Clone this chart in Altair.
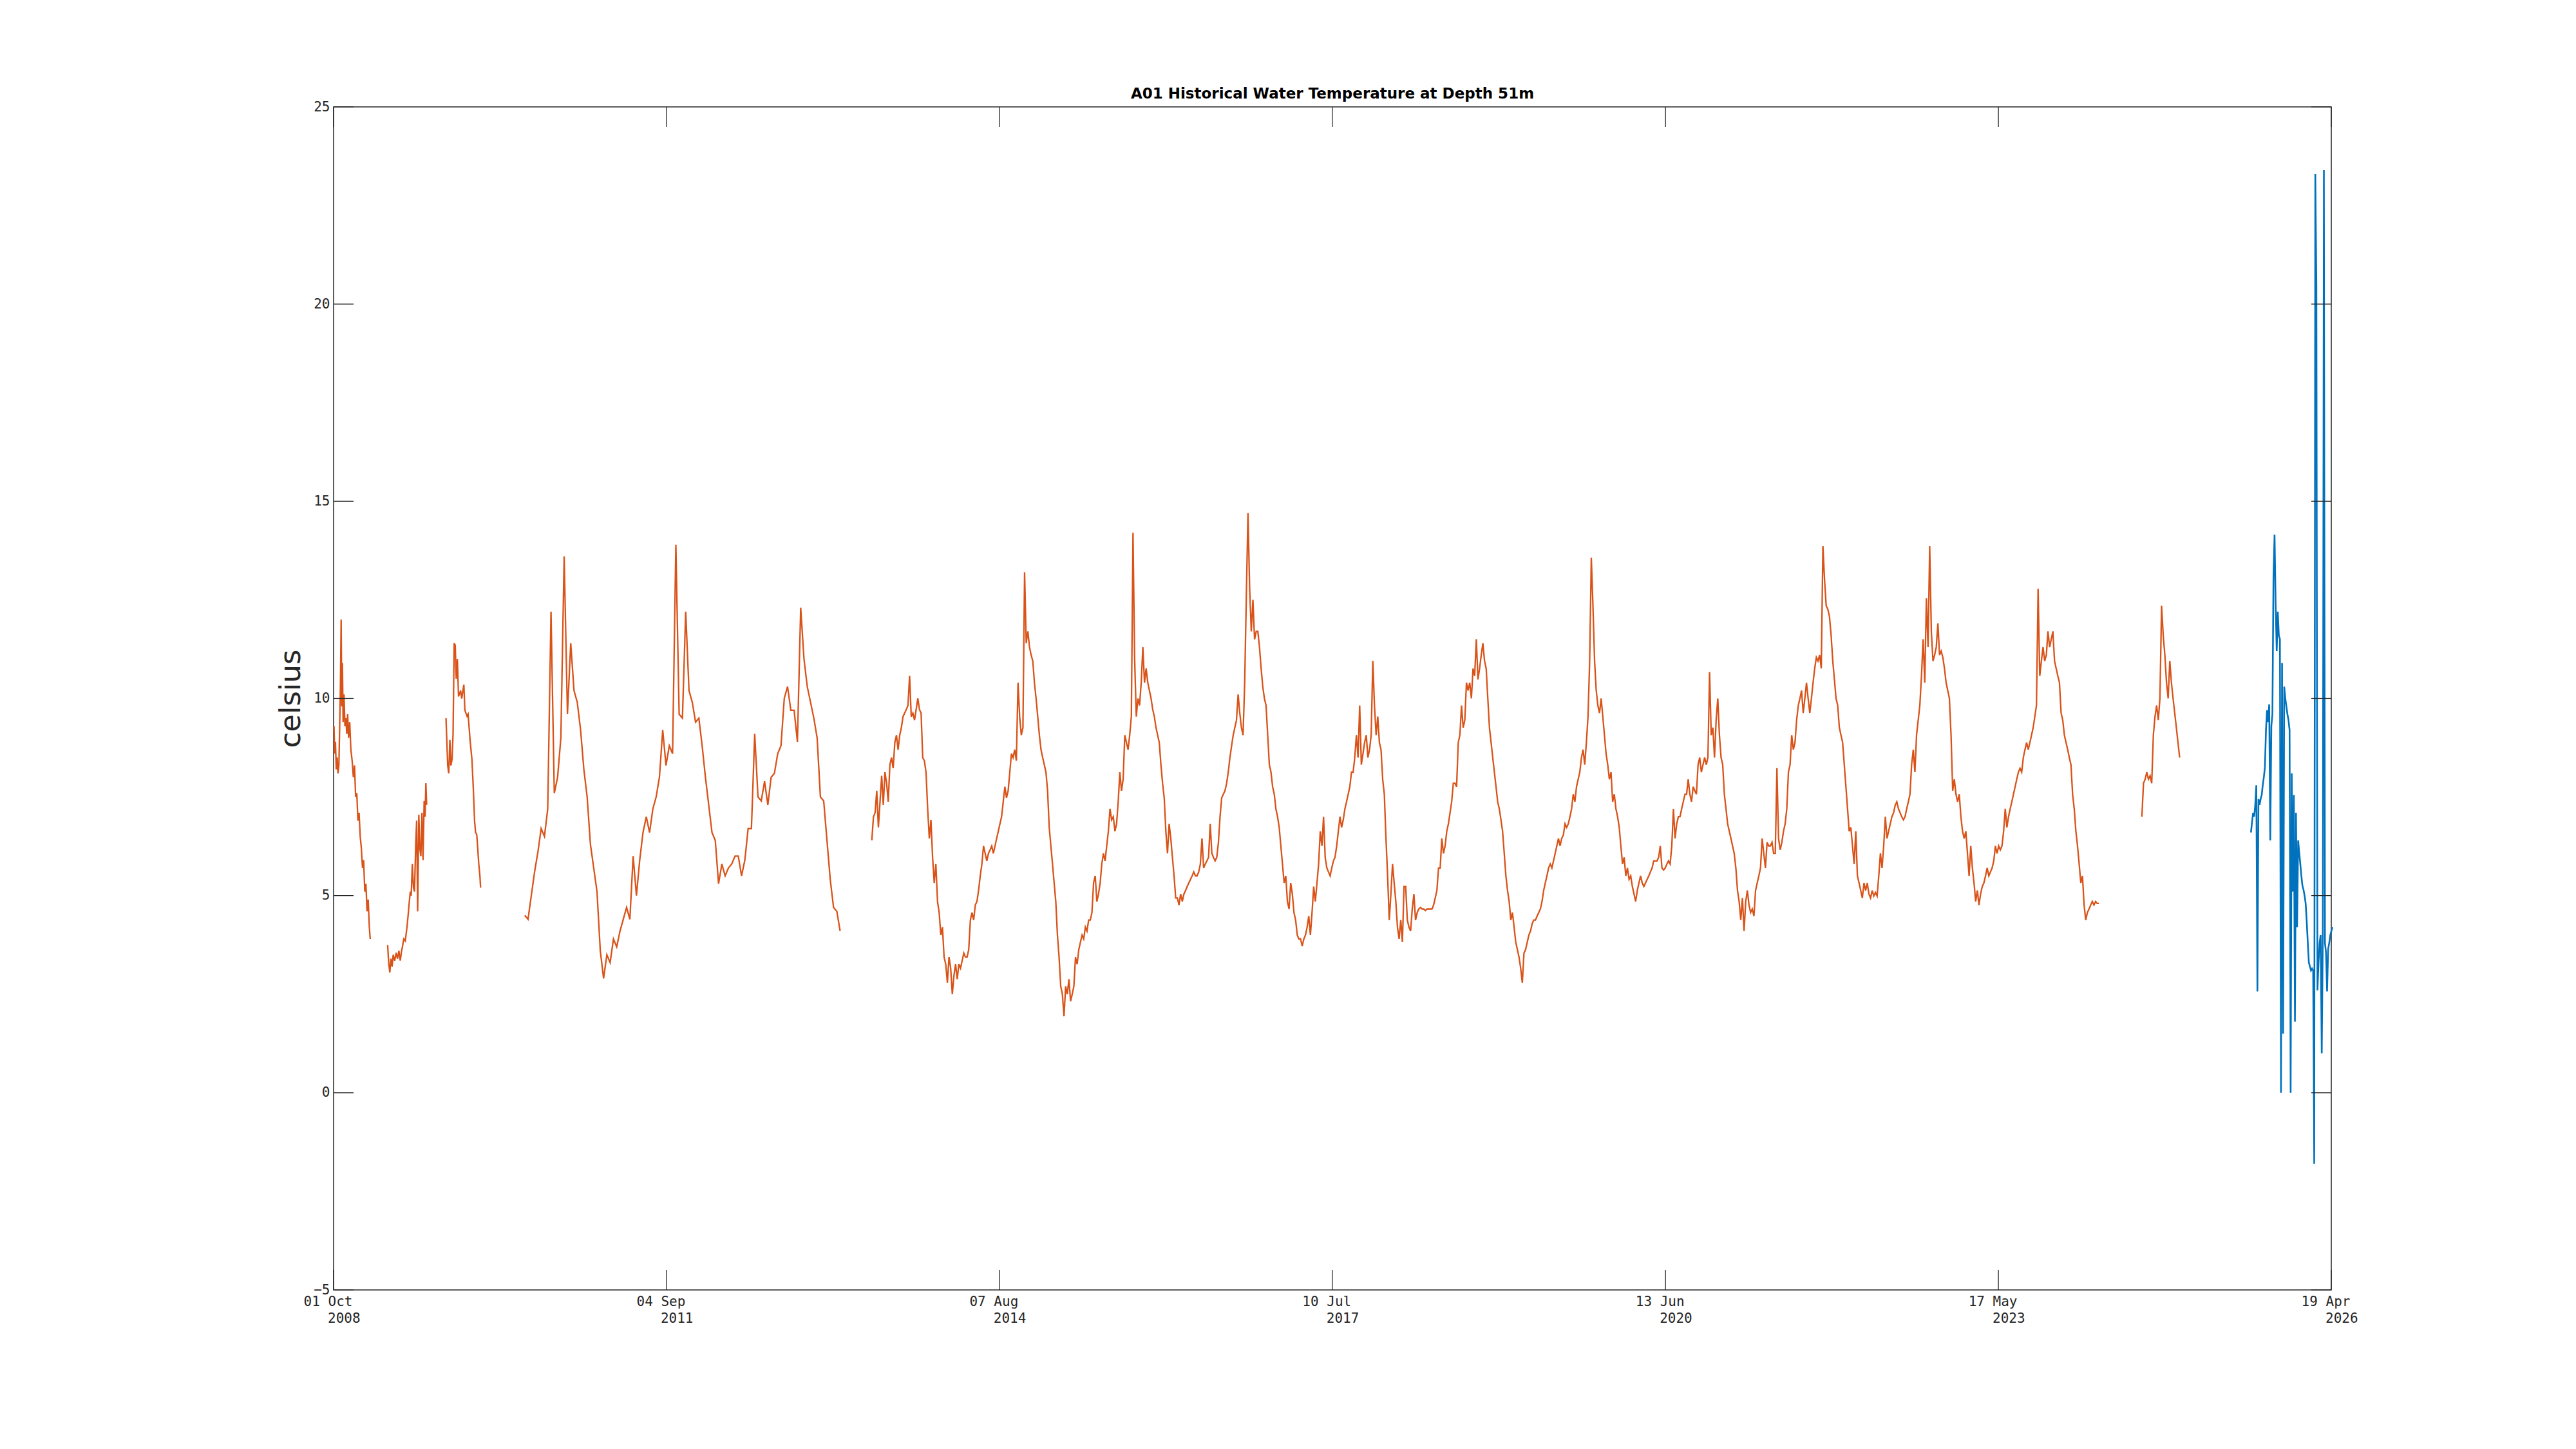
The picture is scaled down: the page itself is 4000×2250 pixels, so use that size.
import altair as alt
import pandas as pd

# ---------------- data ----------------
TITLE = "A01 Historical Water Temperature at Depth 51m"
Y_TITLE = "celsius"
X_TICK_DATES = ["2008-10-01", "2011-09-04", "2014-08-07", "2017-07-10",
                "2020-06-13", "2023-05-17", "2026-04-19"]
Y_TICKS = [-5, 0, 5, 10, 15, 20, 25]

# orange series, short segments (decimal year, temperature)
SEG1_YEARS = [2008.752, 2008.758, 2008.765, 2008.772, 2008.780, 2008.787, 2008.795, 2008.800, 2008.808, 2008.815,
              2008.820, 2008.826, 2008.832, 2008.840, 2008.848, 2008.856, 2008.864, 2008.872, 2008.880, 2008.890,
              2008.900, 2008.912, 2008.922, 2008.932, 2008.942, 2008.952, 2008.962, 2008.972, 2008.982, 2008.992,
              2009.002, 2009.012, 2009.022, 2009.032, 2009.042, 2009.052, 2009.062, 2009.070]
SEG1_TEMPS = [9.3, 8.6, 8.9, 8.2, 8.5, 8.1, 8.3, 9.0, 10.2, 12.0,
              9.8, 10.9, 9.4, 10.1, 9.3, 9.5, 9.1, 9.6, 9.0, 9.4,
              8.7, 8.4, 8.0, 8.3, 7.5, 7.6, 6.9, 7.1, 6.5, 6.2,
              5.7, 5.9, 5.1, 5.3, 4.6, 4.9, 4.2, 3.9]

SEG2_YEARS = [2009.223, 2009.232, 2009.242, 2009.252, 2009.262, 2009.272, 2009.285, 2009.298, 2009.310, 2009.322,
              2009.334, 2009.346, 2009.356, 2009.365, 2009.378, 2009.393, 2009.403, 2009.412, 2009.422, 2009.430,
              2009.440, 2009.450, 2009.459, 2009.470, 2009.478, 2009.487, 2009.497, 2009.506, 2009.515, 2009.525,
              2009.534, 2009.544, 2009.552, 2009.559, 2009.566]
SEG2_TEMPS = [3.75, 3.3, 3.05, 3.4, 3.2, 3.5, 3.35, 3.55, 3.4, 3.6,
              3.35, 3.6, 3.75, 3.9, 3.85, 4.2, 4.5, 4.8, 5.1, 5.0,
              5.8, 5.2, 5.1, 6.3, 6.9, 4.6, 7.05, 6.2, 6.0, 7.1,
              5.9, 7.4, 7.0, 7.85, 7.3]

SEG3_YEARS = [2009.736, 2009.751, 2009.760, 2009.770, 2009.779, 2009.789, 2009.798, 2009.808, 2009.817, 2009.826,
              2009.836, 2009.846, 2009.864, 2009.874, 2009.893, 2009.902, 2009.921, 2009.930, 2009.949, 2009.964,
              2009.977, 2009.987, 2009.996, 2010.006, 2010.015, 2010.024, 2010.034, 2010.040]
SEG3_TEMPS = [9.5, 8.3, 8.1, 8.95, 8.3, 8.45, 9.1, 11.4, 11.35, 10.5,
              11.0, 10.05, 10.2, 10.0, 10.35, 9.7, 9.55, 9.6, 8.9, 8.45,
              7.65, 6.9, 6.6, 6.55, 6.2, 5.8, 5.5, 5.2]

# orange series, long segments read at a regular interval (start decimal year, step in days)
SEG4_START, SEG4_STEP_DAYS = 2010.428, 10.54
SEG4_TEMPS = [4.5, 4.4, 5.0, 5.6, 6.1, 6.7, 6.5, 7.2, 12.2, 7.6,
              8.0, 9.0, 13.6, 9.6, 11.4, 10.2, 9.9, 9.2, 8.2, 7.5,
              6.3, 5.7, 5.1, 3.6, 2.9, 3.5, 3.3, 3.9, 3.7, 4.1,
              4.4, 4.7, 4.4, 6.0, 5.0, 5.9, 6.6, 7.0, 6.6, 7.2,
              7.5, 8.0, 9.2, 8.3, 8.8, 8.6, 13.9, 9.6, 9.5, 12.2,
              10.2, 9.9, 9.4, 9.5, 8.8, 8.0, 7.3, 6.6, 6.4, 5.3,
              5.8, 5.5, 5.7, 5.8, 6.0, 6.0, 5.5, 5.9, 6.7, 6.7,
              9.1, 7.5, 7.4, 7.9, 7.3, 8.0, 8.1, 8.6, 8.8, 10.0,
              10.3, 9.7, 9.7, 8.9, 12.3, 11.0, 10.3, 9.9, 9.5, 9.0,
              7.5, 7.4, 6.4, 5.4, 4.7, 4.6, 4.1]

SEG5_START, SEG5_STEP_DAYS = 2013.476, 5.27
SEG5_TEMPS = [
    # 2013 - 2016
    6.4, 7.0, 7.1, 7.66, 6.73, 7.38, 8.04, 7.3, 8.13, 7.85,
    7.38, 8.32, 8.5, 8.23, 8.88, 9.07, 8.7, 9.07, 9.26, 9.54,
    9.63, 9.72, 9.82, 10.57, 9.54, 9.63, 9.45, 9.72, 10.0, 9.72,
    9.63, 8.5, 8.42, 8.13, 7.2, 6.45, 6.92, 5.97, 5.32, 5.8,
    4.85, 4.57, 4.0, 4.2, 3.44, 3.26, 2.79, 3.44, 3.16, 2.5,
    2.97, 3.26, 2.88, 3.26, 3.16, 3.35, 3.54, 3.44, 3.44, 3.63,
    4.38, 4.57, 4.38, 4.76, 4.85, 5.13, 5.5, 5.8, 6.26, 6.07,
    5.88, 6.07, 6.16, 6.26, 6.07, 6.26, 6.45, 6.63, 6.82, 7.0,
    7.38, 7.76, 7.48, 7.66, 8.13, 8.6, 8.5, 8.7, 8.42, 10.4,
    9.54, 9.07, 9.26, 13.2, 11.4, 11.7, 11.3, 11.1, 10.95, 10.4,
    10.0, 9.54, 9.07, 8.7, 8.5, 8.32, 8.13, 7.66, 6.73, 6.26,
    5.8, 5.32, 4.85, 4.0, 3.44, 2.7, 2.5, 1.94, 2.7, 2.5,
    2.88, 2.32, 2.5, 2.7, 3.44, 3.26, 3.63, 3.82, 4.0, 3.9,
    4.2, 4.1, 4.38, 4.38, 4.57, 5.32, 5.5, 4.85, 5.04, 5.32,
    5.8, 6.07, 5.88, 6.26, 6.63, 7.2, 6.92, 7.0, 6.63, 6.82,
    7.38, 8.13, 7.66, 7.95, 9.07, 8.88, 8.7, 9.07, 9.54, 14.2,
    11.0, 9.54, 10.0, 9.82, 10.4, 11.3, 10.4, 10.76, 10.4, 10.2,
    10.0, 9.72, 9.54, 9.26, 9.07, 8.88, 8.32, 7.85, 7.48, 6.63,
    6.07, 6.82, 6.45, 5.97, 5.5, 4.94, 4.94, 4.76, 5.04, 4.85,
    5.04, 5.13, 5.23, 5.32, 5.41, 5.5, 5.6, 5.5, 5.5, 5.6,
    5.8, 6.45, 5.7, 5.8, 5.88, 5.97, 6.82, 6.07, 5.97, 5.88,
    5.97, 6.35, 7.0, 7.48, 7.57, 7.66, 7.85, 8.13, 8.5, 8.79,
    9.07, 9.26, 9.45, 10.1, 9.63, 9.26, 9.07, 10.4, 12.6, 14.7,
    12.8, 11.7, 12.5, 11.5, 11.7, 11.7, 11.3, 10.76, 10.3, 10.0,
    9.82, 9.07, 8.32, 8.13, 7.76, 7.57, 7.2, 7.0, 6.73, 6.26,
    5.8, 5.32, 5.5, 4.85, 4.66, 5.32, 5.04, 4.57, 4.38, 4.0,
    3.9, 3.9, 3.72, 3.9, 4.0, 4.2, 4.48, 4.0, 4.57, 5.23,
    4.85, 5.32, 5.8, 6.63, 6.26, 7.0, 5.97, 5.7, 5.6, 5.5,
    5.7, 5.88, 5.97, 6.26, 6.63, 7.0, 6.73, 6.92, 7.2, 7.38,
    7.57, 7.76, 8.13,
    # 2018 - 2021
    8.13, 8.5, 9.07, 8.5, 9.82, 8.32, 8.6, 8.88, 9.07, 8.5,
    8.7, 9.07, 10.95, 9.82, 9.07, 9.54, 8.88, 8.7, 7.95, 7.57,
    6.45, 5.5, 4.38, 5.04, 5.8, 5.32, 4.85, 4.2, 3.9, 4.38,
    3.82, 5.23, 5.23, 4.38, 4.2, 4.1, 4.66, 5.04, 4.38, 4.57,
    4.66, 4.7, 4.66, 4.66, 4.62, 4.66, 4.66, 4.66, 4.66, 4.76,
    4.94, 5.13, 5.7, 5.7, 6.45, 6.07, 6.26, 6.63, 6.82, 7.1,
    7.38, 7.85, 7.85, 7.76, 8.88, 9.07, 9.82, 9.26, 9.45, 10.4,
    10.2, 10.4, 10.0, 10.76, 10.57, 11.5, 10.48, 10.76, 11.1, 11.4,
    10.95, 10.76, 10.0, 9.26, 8.88, 8.5, 8.13, 7.76, 7.38, 7.2,
    6.92, 6.63, 6.07, 5.5, 5.13, 4.85, 4.38, 4.57, 4.2, 3.82,
    3.63, 3.44, 3.16, 2.79, 3.54, 3.63, 3.82, 4.0, 4.1, 4.29,
    4.38, 4.38, 4.48, 4.57, 4.66, 4.85, 5.13, 5.32, 5.5, 5.7,
    5.8, 5.7, 5.88, 6.07, 6.26, 6.45, 6.26, 6.45, 6.54, 6.82,
    6.73, 6.82, 7.0, 7.2, 7.57, 7.38, 7.76, 7.95, 8.13, 8.5,
    8.7, 8.32, 8.88, 9.54, 10.95, 13.57, 12.35, 10.95, 10.2, 9.82,
    9.63, 10.0, 9.54, 9.07, 8.6, 8.32, 7.95, 8.13, 7.38, 7.57,
    7.2, 7.0, 6.73, 6.26, 5.8, 5.97, 5.5, 5.7, 5.41, 5.5,
    5.23, 5.04, 4.85, 5.13, 5.32, 5.5, 5.32, 5.23, 5.32, 5.41,
    5.5, 5.6, 5.7, 5.88, 5.88, 5.88, 5.97, 6.26, 5.7, 5.65,
    5.7, 5.8, 5.88, 5.8, 6.26, 7.2, 6.45, 6.82, 7.0, 7.0,
    7.2, 7.38, 7.57, 7.57, 7.95, 7.57, 7.38, 7.76, 7.66, 7.57,
    8.32, 8.5, 8.13, 8.32, 8.5, 8.32, 8.5, 10.67, 9.07, 9.26,
    8.5, 9.45, 10.0, 9.07, 8.5, 8.32, 7.57, 7.2, 6.82, 6.63,
    6.45, 6.26, 6.07, 5.7, 5.13, 4.85, 4.38, 4.94, 4.1, 4.85,
    5.13, 4.76, 4.57, 4.66, 4.48, 5.13, 5.32, 5.5, 5.7, 6.45,
    6.07, 5.7, 6.35, 6.26, 6.26, 6.35, 6.07, 6.07, 8.23, 6.45,
    6.16, 6.35, 6.63, 6.82, 7.2, 8.13, 8.32, 9.07, 8.7, 8.88,
    9.45, 9.82, 10.0, 10.2, 9.63, 10.0, 10.4, 10.0, 9.63, 10.0,
    10.4, 10.76, 11.04, 10.95, 11.1, 10.76, 13.86, 13.0, 12.35, 12.26,
    12.07, 11.6, 10.95, 10.48, 10.0, 9.82, 9.26, 9.07, 8.88, 8.32,
    7.76, 7.2, 6.63, 6.73, 6.26, 5.8, 6.63, 5.5, 5.32, 5.13,
    4.94, 5.32, 5.13, 5.32,
    # 2021 - 2024
    5.04, 4.94, 5.13, 4.99, 5.08, 4.99, 5.5, 6.07, 5.7, 6.26,
    7.0, 6.45, 6.63, 6.82, 7.0, 7.1, 7.29, 7.38, 7.2, 7.1,
    7.0, 6.92, 7.0, 7.2, 7.38, 7.57, 8.32, 8.7, 8.13, 9.07,
    9.45, 9.82, 10.57, 11.5, 10.4, 12.54, 11.3, 13.86, 11.7, 10.95,
    11.1, 11.3, 11.9, 11.1, 11.2, 11.04, 10.76, 10.4, 10.2, 10.0,
    9.07, 7.66, 7.95, 7.57, 7.38, 7.57, 7.0, 6.63, 6.45, 6.63,
    6.07, 5.5, 6.26, 5.7, 5.32, 4.85, 5.13, 4.76, 5.04, 5.23,
    5.32, 5.5, 5.7, 5.5, 5.6, 5.7, 5.88, 6.26, 6.07, 6.26,
    6.16, 6.26, 6.63, 7.2, 6.73, 7.0, 7.2, 7.38, 7.57, 7.76,
    7.95, 8.13, 8.23, 8.13, 8.5, 8.7, 8.88, 8.7, 8.88, 9.07,
    9.26, 9.54, 9.82, 12.78, 10.57, 10.95, 11.3, 10.95, 11.1, 11.7,
    11.3, 11.5, 11.7, 10.95, 10.76, 10.57, 10.4, 9.63, 9.45, 9.07,
    8.88, 8.7, 8.5, 8.32, 7.57, 7.2, 6.63, 6.26, 5.8, 5.32,
    5.5, 4.76, 4.38, 4.57, 4.66, 4.76, 4.85, 4.76, 4.85, 4.8,
    4.8]

SEG6_START, SEG6_STEP_DAYS = 2024.632, 5.27
SEG6_TEMPS = [7.0, 7.85, 7.95, 8.13, 7.95, 8.04, 7.85, 9.07, 9.54, 9.82,
              9.45, 10.0, 12.35, 11.6, 11.1, 10.4, 10.0, 10.95, 10.4, 10.0,
              9.63, 9.26, 8.88, 8.5]

# blue (recent) series
BLUE_START, BLUE_STEP_DAYS = 2025.59, 3.44
BLUE_TEMPS = [6.6, 6.87, 7.1, 7.0, 7.3, 7.8, 2.57, 7.45, 7.3, 7.45,
              7.55, 7.8, 8.0, 8.25, 9.2, 9.7, 9.4, 9.85, 6.4, 9.3,
              9.6, 13.1, 14.15, 12.4, 11.2, 12.2, 11.6, 11.5, 0.0, 10.9,
              1.5, 10.3, 10.0, 9.8, 9.6, 9.45, 9.2, 0.0, 8.1, 5.1,
              7.55, 1.8, 7.1, 4.2, 6.4, 6.1, 5.8, 5.5, 5.25, 5.15,
              5.0, 4.8, 4.35, 3.8, 3.3, 3.2, 3.1, 3.15, 3.1, -1.8,
              23.3, 20.5, 2.6, 3.3, 3.8, 4.0, 1.0, 3.95, 23.4, 3.8,
              3.55, 2.57, 3.65, 3.8, 4.0, 4.1, 4.2]

ORANGE = "#D95319"
BLUE = "#0072BD"
AXIS_COLOR = "#262626"

# ---------------- build tables ----------------
FMT = "%Y-%m-%dT%H:%M:%S"


def year_to_ts(y):
    yr = int(y)
    start = pd.Timestamp(year=yr, month=1, day=1)
    end = pd.Timestamp(year=yr + 1, month=1, day=1)
    return start + (end - start) * (y - yr)


orange_rows, blue_rows = [], []


def add_explicit(rows, seg, years, temps):
    for y, t in zip(years, temps):
        rows.append({"date": year_to_ts(y).strftime(FMT), "temp": t, "seg": seg})


def add_regular(rows, seg, start_year, step_days, temps):
    t0 = year_to_ts(start_year)
    for i, t in enumerate(temps):
        rows.append({"date": (t0 + pd.Timedelta(days=step_days * i)).strftime(FMT),
                     "temp": t, "seg": seg})


add_explicit(orange_rows, "s1", SEG1_YEARS, SEG1_TEMPS)
add_explicit(orange_rows, "s2", SEG2_YEARS, SEG2_TEMPS)
add_explicit(orange_rows, "s3", SEG3_YEARS, SEG3_TEMPS)
add_regular(orange_rows, "s4", SEG4_START, SEG4_STEP_DAYS, SEG4_TEMPS)
add_regular(orange_rows, "s5", SEG5_START, SEG5_STEP_DAYS, SEG5_TEMPS)
add_regular(orange_rows, "s6", SEG6_START, SEG6_STEP_DAYS, SEG6_TEMPS)
add_regular(blue_rows, "b1", BLUE_START, BLUE_STEP_DAYS, BLUE_TEMPS)

orange_df = pd.DataFrame(orange_rows)
blue_df = pd.DataFrame(blue_rows)
xt_df = pd.DataFrame({"date": [d + "T00:00:00" for d in X_TICK_DATES],
                      "year": [d[:4] for d in X_TICK_DATES]})
yt_df = pd.DataFrame({"temp": Y_TICKS})

# ---------------- chart ----------------
W, H = 3102, 1837
TICK_LEN = 31
LABEL_FONT = "DejaVu Sans Mono"
LABEL_SIZE = 21
LABEL_PAD = 7
LINE_GAP = 27
LABEL_SHIFT = -9


def dt(s):
    y, m, d = (int(p) for p in s.split("-"))
    return alt.DateTime(year=y, month=m, date=d)


x_scale = alt.Scale(domain=[dt(X_TICK_DATES[0]), dt(X_TICK_DATES[-1])])
y_scale = alt.Scale(domain=[Y_TICKS[0], Y_TICKS[-1]], nice=False, zero=False)

x_axis = alt.Axis(
    values=[dt(s) for s in X_TICK_DATES], format="%d %b",
    ticks=False, domain=False, grid=False, title=None,
    labelFont=LABEL_FONT, labelFontSize=LABEL_SIZE, labelColor=AXIS_COLOR,
    labelPadding=LABEL_PAD, labelOffset=LABEL_SHIFT,
    labelAlign="center", labelBaseline="top", labelFlush=False, labelOverlap=False,
)
y_axis = alt.Axis(
    values=Y_TICKS, ticks=False, domain=False, grid=False,
    labelFont=LABEL_FONT, labelFontSize=LABEL_SIZE, labelColor=AXIS_COLOR, labelPadding=6,
    title=Y_TITLE, titleFont="DejaVu Sans", titleFontSize=45, titleFontWeight="normal",
    titleColor=AXIS_COLOR, titlePadding=12,
)

x_enc = alt.X("date:T", scale=x_scale, axis=x_axis)
y_enc = alt.Y("temp:Q", scale=y_scale, axis=y_axis)

orange = alt.Chart(orange_df).mark_line(color=ORANGE, strokeWidth=2.3).encode(
    x=x_enc, y=y_enc, detail="seg:N")
blue = alt.Chart(blue_df).mark_line(color=BLUE, strokeWidth=2.6).encode(
    x=x_enc, y=y_enc, detail="seg:N")

tick_style = dict(color=AXIS_COLOR, strokeWidth=1.3)
x_ticks_bottom = alt.Chart(xt_df).mark_rule(**tick_style).encode(
    x=x_enc, y=alt.value(H), y2=alt.value(H - TICK_LEN))
x_ticks_top = alt.Chart(xt_df).mark_rule(**tick_style).encode(
    x=x_enc, y=alt.value(0), y2=alt.value(TICK_LEN))
y_ticks_left = alt.Chart(yt_df).mark_rule(**tick_style).encode(
    y=y_enc, x=alt.value(0), x2=alt.value(TICK_LEN))
y_ticks_right = alt.Chart(yt_df).mark_rule(**tick_style).encode(
    y=y_enc, x=alt.value(W), x2=alt.value(W - TICK_LEN))

# second line of the date tick labels (year), left-aligned at the first line's centre
year_labels = alt.Chart(xt_df).mark_text(
    font=LABEL_FONT, fontSize=LABEL_SIZE, color=AXIS_COLOR,
    align="left", baseline="top", dx=LABEL_SHIFT,
).encode(x=x_enc, y=alt.value(H + LABEL_PAD + LINE_GAP), text="year:N")

chart = alt.layer(
    orange, blue, x_ticks_bottom, x_ticks_top, y_ticks_left, y_ticks_right, year_labels
).properties(
    width=W, height=H,
    background="white",
    title=alt.TitleParams(TITLE, font="DejaVu Sans", fontSize=23, fontWeight="bold",
                          color="#000000", offset=7, dy=10, anchor="middle"),
    autosize=alt.AutoSizeParams(type="none"),
    padding={"left": 510, "top": 158, "right": 350, "bottom": 200},
).configure_view(
    stroke=AXIS_COLOR, strokeWidth=1.5
)

chart.save("out.html", embed_options={"renderer": "svg", "actions": False})
